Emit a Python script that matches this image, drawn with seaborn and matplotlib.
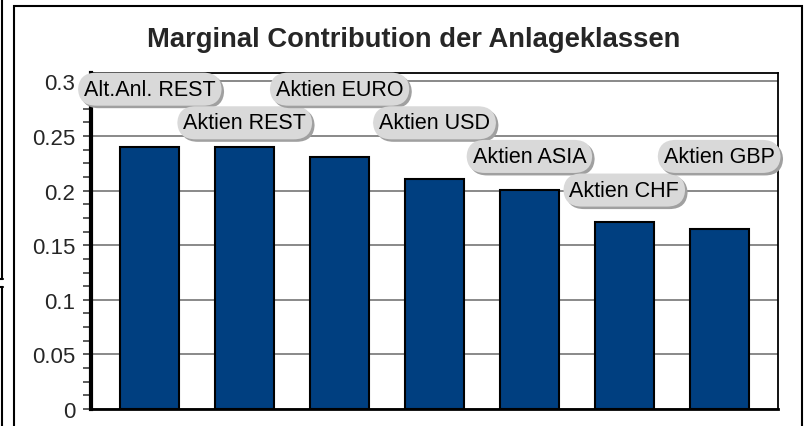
import matplotlib
matplotlib.use("Agg")
import matplotlib.pyplot as plt
import matplotlib.patheffects as pe
from matplotlib.patches import Rectangle
from matplotlib.lines import Line2D
from matplotlib.ticker import MultipleLocator, FuncFormatter
import seaborn as sns

# daten
klassen = ["Alt.Anl. REST", "Aktien REST", "Aktien EURO", "Aktien USD",
           "Aktien ASIA", "Aktien CHF", "Aktien GBP"]
beitrag = [0.240, 0.240, 0.231, 0.211, 0.201, 0.171, 0.165]
label_zeile = [3, 2, 3, 2, 1, 0, 1]  # gestaffelte beschriftung
y_ticks = [0, 0.05, 0.1, 0.15, 0.2, 0.25, 0.3]

sns.set_style("white")
plt.rcParams["font.family"] = ["Liberation Sans", "DejaVu Sans"]

fig = plt.figure(figsize=(8.12, 4.27), dpi=100)
ax = fig.add_axes([91 / 812, 1 - 410 / 427, (778 - 91) / 812, (410 - 74) / 427])

sns.barplot(x=klassen, y=beitrag, color="#003f80", saturation=1,
            edgecolor="black", linewidth=1.5, width=0.62, ax=ax)

ax.set_xlim(-0.62, 6.62)
ax.set_ylim(0, 0.3077)
ax.set_xticks([])
ax.set_yticks(y_ticks)
ax.yaxis.set_minor_locator(MultipleLocator(0.0125))
ax.yaxis.set_major_formatter(FuncFormatter(lambda v, p: "%g" % v))
ax.tick_params(axis="y", which="both", direction="out", length=6, width=1.2,
               color="#404040", left=True, labelsize=16, pad=5.5)
ax.yaxis.grid(True, color="#808080", lw=1.3)
ax.set_axisbelow(True)
ax.set_xlabel("")
ax.set_ylabel("")

for side in ["top", "right"]:
    ax.spines[side].set_linewidth(1.3)
    ax.spines[side].set_color("black")
ax.spines["left"].set_linewidth(3)
ax.spines["bottom"].set_linewidth(2)
ax.spines["left"].set_color("black")
ax.spines["bottom"].set_color("black")

# beschriftungen in grauen pillen mit schatten
for i, (name, zeile) in enumerate(zip(klassen, label_zeile)):
    t = ax.text(i, 0.2005 + zeile * 0.0308, name, ha="center", va="center",
                fontsize=15.5, color="black", zorder=10, clip_on=False,
                bbox=dict(boxstyle="round,pad=0.28,rounding_size=0.85",
                          fc="#d9d9d9", ec="none"))
    t.get_bbox_patch().set_path_effects([
        pe.SimplePatchShadow(offset=(1.8, -1.8), shadow_rgbFace="#a0a0a0", alpha=1),
        pe.Normal()])

fig.text(0.51, 1 - 40 / 427, "Marginal Contribution der Anlageklassen",
         ha="center", va="center", fontsize=19.7, fontweight="bold")

# rahmen
fig.patches.append(Rectangle((14 / 812, -0.1), (802 - 14) / 812, 1.1 - 7 / 427,
                             transform=fig.transFigure, fill=False,
                             ec="black", lw=1.5))
# reste des nachbardiagramms am linken rand
fig.lines.append(Line2D([2.5 / 812, 2.5 / 812], [1, 1 - 280 / 427],
                        transform=fig.transFigure, color="black", lw=1.5))
fig.lines.append(Line2D([0, 3 / 812], [1 - 280 / 427, 1 - 280 / 427],
                        transform=fig.transFigure, color="black", lw=1.5))
fig.lines.append(Line2D([2.5 / 812, 2.5 / 812], [1 - 288 / 427, 0],
                        transform=fig.transFigure, color="black", lw=1.5))
fig.lines.append(Line2D([0, 3 / 812], [1 - 288 / 427, 1 - 288 / 427],
                        transform=fig.transFigure, color="black", lw=1.5))

fig.savefig("out.png", dpi=100)
